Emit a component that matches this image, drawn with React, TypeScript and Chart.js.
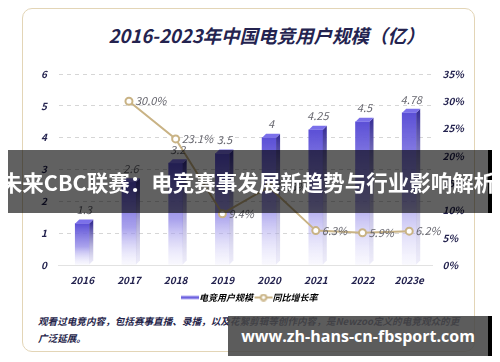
import React, { useEffect, useRef } from "react";
import { Chart, registerables } from "chart.js";

Chart.register(...registerables);

const categories = ["2016", "2017", "2018", "2019", "2020", "2021", "2022", "2023e"];
const users = [1.3, 2.6, 3.2, 3.5, 4, 4.25, 4.5, 4.78];
const growth = [null, 30.0, 23.1, 9.4, 14.3, 6.3, 5.9, 6.2];
const leftTicks = { min: 0, max: 6, step: 1 };
const rightTicks = { min: 0, max: 35, step: 5 };
const seriesNames = ["电竞用户规模", "同比增长率"];
const titleText = "2016-2023年中国电竞用户规模（亿）";
const noteLines = [
  "观看过电竞内容，包括赛事直播、录播，以及花絮剪辑等创作内容，是Newzoo定义的电竞观众的更",
  "广泛延展。",
];
const bannerText = "未来CBC联赛：电竞赛事发展新趋势与行业影响解析";
const watermarkText = "www.zh-hans-cn-fbsport.com";

const PURPLE = "#5a4fd3";
const TAN = "#c9b385";
const NAVY = "#24234f";
const FONT = "'Noto Sans CJK SC', 'Noto Sans', sans-serif";

function makeLegendIcon(kind: "bar" | "line") {
  const c = document.createElement("canvas");
  c.width = 20;
  c.height = 8;
  const g = c.getContext("2d")!;
  if (kind === "bar") {
    g.strokeStyle = "#6d62e0";
    g.lineWidth = 3;
    g.beginPath();
    g.moveTo(1, 4);
    g.lineTo(19, 4);
    g.stroke();
  } else {
    g.strokeStyle = TAN;
    g.lineWidth = 2;
    g.beginPath();
    g.moveTo(1, 4);
    g.lineTo(19, 4);
    g.stroke();
    g.beginPath();
    g.fillStyle = "#fff";
    g.arc(10, 4, 2.8, 0, Math.PI * 2);
    g.fill();
    g.stroke();
  }
  return c;
}

const bar3d = {
  id: "bar3d",
  afterDatasetDraw(chart: any, args: any) {
    if (args.index !== 0) return;
    const ctx = chart.ctx;
    const meta = chart.getDatasetMeta(0);
    const d = 4;
    meta.data.forEach((el: any) => {
      const { x, y, base, width } = el.getProps(["x", "y", "base", "width"], true);
      const l = x - width / 2;
      const r = x + width / 2;
      ctx.save();
      const sg = ctx.createLinearGradient(0, y, 0, base);
      sg.addColorStop(0, "#3c3398");
      sg.addColorStop(1, "rgba(200,196,236,0.3)");
      ctx.fillStyle = sg;
      ctx.beginPath();
      ctx.moveTo(r, y);
      ctx.lineTo(r + d, y - d);
      ctx.lineTo(r + d, base - d);
      ctx.lineTo(r, base);
      ctx.closePath();
      ctx.fill();
      ctx.fillStyle = "#7b70ea";
      ctx.beginPath();
      ctx.moveTo(l, y);
      ctx.lineTo(l + d, y - d);
      ctx.lineTo(r + d, y - d);
      ctx.lineTo(r, y);
      ctx.closePath();
      ctx.fill();
      ctx.restore();
    });
  },
};

const valueLabels = {
  id: "valueLabels",
  afterDatasetsDraw(chart: any) {
    const ctx = chart.ctx;
    ctx.save();
    ctx.font = `italic 11px ${FONT}`;
    ctx.fillStyle = "#66666e";
    const bm = chart.getDatasetMeta(0);
    bm.data.forEach((el: any, i: number) => {
      ctx.textAlign = "center";
      ctx.textBaseline = "bottom";
      ctx.fillText(String(users[i]), el.x + 2, el.y - 8);
    });
    const lm = chart.getDatasetMeta(1);
    lm.data.forEach((el: any, i: number) => {
      const v = growth[i];
      if (v == null) return;
      ctx.textAlign = "left";
      ctx.textBaseline = "middle";
      ctx.fillText(v.toFixed(1) + "%", el.x + 6, el.y);
    });
    ctx.restore();
  },
};

function ChartView() {
  const ref = useRef<HTMLCanvasElement | null>(null);
  useEffect(() => {
    if (!ref.current) return;
    const barIcon = makeLegendIcon("bar");
    const lineIcon = makeLegendIcon("line");
    const chart = new Chart(ref.current, {
      type: "bar",
      data: {
        labels: categories,
        datasets: [
          {
            type: "bar",
            label: seriesNames[0],
            data: users,
            yAxisID: "y",
            order: 2,
            barThickness: 14,
            backgroundColor: (c: any) => {
              const ch = c.chart;
              const ys = ch.scales && ch.scales.y;
              if (!ys || !ch.chartArea || c.raw == null) return PURPLE;
              const top = ys.getPixelForValue(c.raw);
              const bottom = ys.getPixelForValue(0);
              if (!isFinite(top) || !isFinite(bottom)) return PURPLE;
              const g = ch.ctx.createLinearGradient(0, top, 0, bottom);
              g.addColorStop(0, "#5b4fd6");
              g.addColorStop(0.55, "rgba(140,130,230,0.75)");
              g.addColorStop(1, "rgba(225,222,250,0.2)");
              return g;
            },
          },
          {
            type: "line",
            label: seriesNames[1],
            data: growth,
            yAxisID: "y1",
            order: 1,
            borderColor: TAN,
            borderWidth: 2,
            pointRadius: 3.5,
            pointBorderWidth: 2,
            pointBackgroundColor: "#fff",
            pointBorderColor: TAN,
            tension: 0,
            spanGaps: false,
          },
        ],
      },
      options: {
        animation: false,
        responsive: false,
        maintainAspectRatio: false,
        layout: { padding: { left: 6, right: 2, top: 6, bottom: 0 } },
        plugins: {
          title: { display: false },
          tooltip: { enabled: false },
          legend: {
            position: "bottom",
            labels: {
              usePointStyle: true,
              boxWidth: 20,
              boxHeight: 8,
              padding: 6,
              color: "#333",
              font: { family: FONT, size: 9, style: "italic", weight: "bold" },
              generateLabels: () => [
                { text: seriesNames[0], pointStyle: barIcon, datasetIndex: 0, fillStyle: PURPLE, strokeStyle: PURPLE, lineWidth: 0, hidden: false },
                { text: seriesNames[1], pointStyle: lineIcon, datasetIndex: 1, fillStyle: TAN, strokeStyle: TAN, lineWidth: 0, hidden: false },
              ] as any,
            },
          },
        },
        scales: {
          x: {
            grid: { display: false },
            border: { display: true, color: "#e2e2e2", width: 1 },
            ticks: {
              color: NAVY,
              padding: 1,
              font: { family: FONT, size: 10, style: "italic", weight: "bold" },
            },
          },
          y: {
            position: "left",
            min: leftTicks.min,
            max: leftTicks.max,
            ticks: {
              stepSize: leftTicks.step,
              color: NAVY,
              padding: 12,
              font: { family: FONT, size: 10, style: "italic", weight: "bold" },
            },
            grid: { color: "#d6d6d6", drawTicks: false, lineWidth: 1 },
            border: { display: false, dash: [4, 4] },
          },
          y1: {
            position: "right",
            min: rightTicks.min,
            max: rightTicks.max,
            ticks: {
              stepSize: rightTicks.step,
              color: NAVY,
              padding: 10,
              callback: (v: any) => v + "%",
              font: { family: FONT, size: 10, style: "italic", weight: "bold" },
            },
            grid: { display: false, drawTicks: false },
            border: { display: false },
          },
        },
      },
      plugins: [bar3d, valueLabels],
    } as any);
    return () => chart.destroy();
  }, []);
  return <canvas ref={ref} width={453} height={256} style={{ position: "absolute", left: 0, top: 47, width: 453, height: 256 }} />;
}

export default function App() {
  return (
    <div style={{ position: "fixed", left: 0, top: 0, width: 500, height: 362, background: "#fff", overflow: "hidden", fontFamily: FONT }}>
      <div
        style={{
          position: "absolute",
          left: 22,
          top: 8,
          width: 453,
          height: 344,
          border: "1.5px solid #e3d5b6",
          borderRadius: 10,
          boxSizing: "border-box",
          background: "#fff",
        }}
      >
        <div
          style={{
            position: "absolute",
            left: 36,
            right: 0,
            top: 13,
            textAlign: "center",
            fontSize: 18.5,
            fontWeight: 700,
            fontStyle: "italic",
            color: NAVY,
            lineHeight: "26px",
          }}
        >
          {titleText}
        </div>
        <ChartView />
        <div
          style={{
            position: "absolute",
            left: 15,
            top: 304,
            fontSize: 9.6,
            fontWeight: 700,
            fontStyle: "italic",
            color: "#26254a",
            lineHeight: "17px",
            whiteSpace: "nowrap",
          }}
        >
          {noteLines[0]}
          <br />
          {noteLines[1]}
        </div>
      </div>
      <div
        style={{
          position: "absolute",
          left: 8,
          top: 150,
          width: 484,
          height: 63,
          background: "rgba(0,0,0,0.62)",
          borderRight: "4px solid #000",
          boxSizing: "border-box",
          display: "flex",
          alignItems: "center",
          justifyContent: "center",
          color: "#fff",
          fontSize: 21.5,
          fontWeight: 700,
          whiteSpace: "nowrap",
        }}
      >
        {bannerText}
      </div>
      <div
        style={{
          position: "absolute",
          left: 228,
          top: 316,
          width: 264,
          height: 40,
          background: "rgba(70,70,70,0.88)",
          borderRight: "4px solid #000",
          boxSizing: "border-box",
          display: "flex",
          alignItems: "center",
          justifyContent: "center",
          color: "#fff",
          fontSize: 16,
          fontWeight: 700,
          fontFamily: "'Open Sans', 'Noto Sans', sans-serif",
          whiteSpace: "nowrap",
        }}
      >
        {watermarkText}
      </div>
    </div>
  );
}
